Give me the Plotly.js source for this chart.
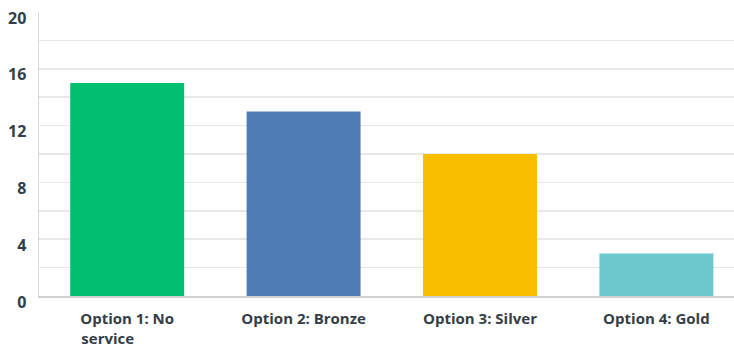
<!DOCTYPE html>
<html>
<head>
<meta charset="utf-8">
<script src="https://cdn.plot.ly/plotly-3.0.1.min.js"></script>
<style>html,body{margin:0;padding:0;background:#fff;}#chart{width:734px;height:347px;}</style>
</head>
<body>
<div id="chart"></div>
<script>
const categories = ["Option 1: No<br>service\u00a0\u00a0\u00a0\u00a0\u00a0\u00a0\u00a0\u00a0\u00a0\u00a0", "Option 2: Bronze", "Option 3: Silver", "Option 4: Gold"];
const values = [15, 13, 10, 3];
const barColors = ["#00bf6f", "#507cb6", "#f9be00", "#6bc8cd"];
const yTickVals = [0, 4, 8, 12, 16, 20];
const gridVals = [2, 4, 6, 8, 10, 12, 14, 16, 18];

const font = "'Open Sans', 'Noto Sans', sans-serif";

Plotly.newPlot('chart', [{
  type: 'bar',
  x: categories,
  y: values,
  marker: {color: barColors},
  hoverinfo: 'none'
}, {
  type: 'scatter',
  x: categories,
  y: values,
  yaxis: 'y2',
  mode: 'none',
  hoverinfo: 'skip',
  showlegend: false
}], {
  width: 734,
  height: 347,
  margin: {l: 39, r: 0, t: 12, b: 51},
  paper_bgcolor: '#fff',
  plot_bgcolor: 'rgba(0,0,0,0)',
  bargap: 0.354,
  showlegend: false,
  font: {family: font, color: '#333e48'},
  xaxis: {
    range: [-0.5, 3.44],
    showline: true, linecolor: '#d0d0d0', linewidth: 2,
    showgrid: false, zeroline: false,
    ticks: '', ticklabelstandoff: 8,
    tickfont: {family: font, size: 15, color: '#333e48', weight: 'bold'}
  },
  yaxis: {
    range: [0, 20],
    tickvals: yTickVals,
    showline: true, linecolor: '#d9d9d9', linewidth: 1.5,
    showgrid: false, zeroline: false,
    ticks: '', ticklabelstandoff: 8, ticklabelshift: 6,
    tickfont: {family: font, size: 16, color: '#333e48', weight: 'bold'}
  },
  yaxis2: {
    overlaying: 'y',
    range: [0, 20],
    tickvals: gridVals,
    showticklabels: false,
    showgrid: true, gridcolor: '#e8e8e8', gridwidth: 1.5,
    zeroline: false, showline: false, ticks: ''
  }
}, {staticPlot: true});
</script>
</body>
</html>
